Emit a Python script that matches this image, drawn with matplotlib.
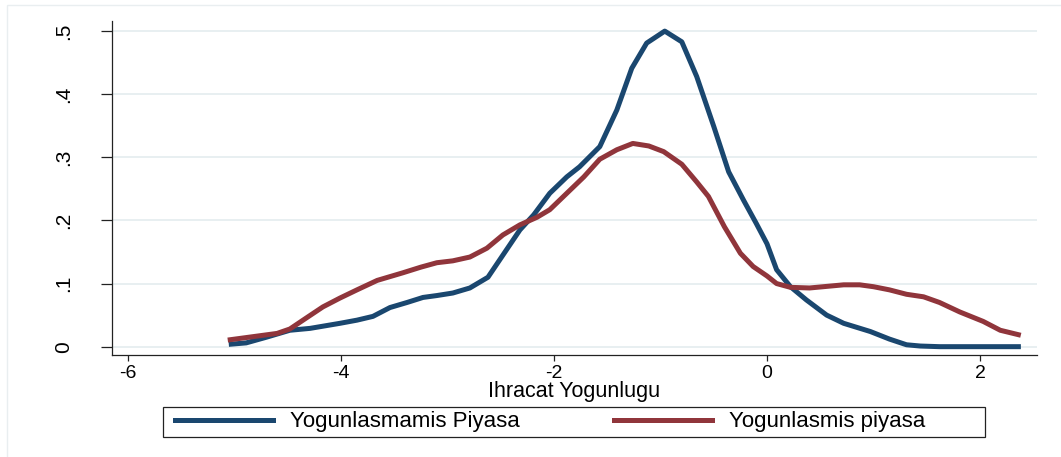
import matplotlib
matplotlib.use("Agg")
import matplotlib.pyplot as plt
from matplotlib.lines import Line2D
from matplotlib.patches import Rectangle

plt.rcParams['font.family'] = ['Liberation Sans', 'DejaVu Sans']

# Density curve: Yogunlasmamis Piyasa (non-concentrated market)
blue_x = [-5.03, -4.89, -4.70, -4.48, -4.29, -4.01, -3.85, -3.70, -3.54, -3.38,
          -3.23, -3.10, -2.95, -2.79, -2.62, -2.48, -2.32, -2.19, -2.04, -1.88,
          -1.76, -1.57, -1.41, -1.27, -1.13, -0.96, -0.80, -0.66, -0.50, -0.36,
          -0.22, -0.10, 0.00, 0.09, 0.22, 0.37, 0.56, 0.72, 0.97, 1.15,
          1.31, 1.44, 1.62, 2.00, 2.36]
blue_y = [0.004, 0.006, 0.015, 0.026, 0.029, 0.037, 0.042, 0.048, 0.062, 0.070,
          0.078, 0.081, 0.085, 0.093, 0.110, 0.145, 0.185, 0.209, 0.243, 0.269,
          0.285, 0.317, 0.375, 0.441, 0.481, 0.500, 0.483, 0.428, 0.349, 0.277,
          0.232, 0.195, 0.163, 0.122, 0.095, 0.074, 0.050, 0.037, 0.024, 0.012,
          0.003, 0.001, 0.000, 0.000, 0.000]

# Density curve: Yogunlasmis piyasa (concentrated market)
red_x = [-5.04, -4.82, -4.60, -4.48, -4.33, -4.17, -4.01, -3.85, -3.66, -3.42,
         -3.25, -3.10, -2.95, -2.79, -2.63, -2.48, -2.32, -2.16, -2.04, -1.88,
         -1.72, -1.57, -1.41, -1.26, -1.11, -0.97, -0.80, -0.66, -0.55, -0.40,
         -0.25, -0.13, 0.00, 0.09, 0.22, 0.40, 0.72, 0.87, 1.00, 1.15,
         1.31, 1.47, 1.62, 1.81, 2.03, 2.19, 2.36]
red_y = [0.011, 0.016, 0.021, 0.028, 0.045, 0.063, 0.077, 0.090, 0.105, 0.117,
         0.126, 0.133, 0.136, 0.142, 0.156, 0.177, 0.193, 0.205, 0.217, 0.243,
         0.269, 0.297, 0.312, 0.322, 0.318, 0.309, 0.289, 0.261, 0.238, 0.190,
         0.148, 0.127, 0.112, 0.100, 0.094, 0.093, 0.098, 0.098, 0.095, 0.090,
         0.083, 0.079, 0.070, 0.055, 0.040, 0.026, 0.019]

series_labels = ["Yogunlasmamis Piyasa", "Yogunlasmis piyasa"]
x_ticks = [-6, -4, -2, 0, 2]
x_tick_labels = ["-6", "-4", "-2", "0", "2"]
y_ticks = [0, 0.1, 0.2, 0.3, 0.4, 0.5]
y_tick_labels = ["0", ".1", ".2", ".3", ".4", ".5"]
x_label = "Ihracat Yogunlugu"

W, H = 1061, 457
fig = plt.figure(figsize=(W / 100, H / 100), dpi=100)
fig.patch.set_facecolor('white')

# faint outer graph-region frame
fig.add_artist(Rectangle((7 / W, -0.05), 1.2, (H - 5) / H + 0.05,
                         transform=fig.transFigure, fill=False,
                         edgecolor='#e9eef0', linewidth=1.0))

ax = fig.add_axes([112 / W, 1 - 355 / H, (1037 - 112) / W, (355 - 21) / H])
ax.set_facecolor('white')

blue_c = '#1a476f'
red_c = '#90353b'
LW = 3.6
ax.plot(blue_x, blue_y, color=blue_c, lw=LW, zorder=3)
ax.plot(red_x, red_y, color=red_c, lw=LW, zorder=3)

ax.set_xlim(-6.15, 2.535)
ax.set_ylim(-0.0132, 0.516)

ax.set_xticks(x_ticks)
ax.set_xticklabels(x_tick_labels)
ax.set_yticks(y_ticks)
ax.set_yticklabels(y_tick_labels, rotation=90, va='center')

for s in ['top', 'right']:
    ax.spines[s].set_visible(False)
for s in ['left', 'bottom']:
    ax.spines[s].set_linewidth(0.9)
    ax.spines[s].set_color('#222222')

ax.tick_params(axis='y', length=8, width=0.9, pad=20, labelsize=15, color='#222222')
ax.tick_params(axis='x', length=4.5, width=0.9, pad=3, labelsize=14, color='#222222')

ax.grid(axis='y', color='#e6eef0', linewidth=1.3, zorder=0)
ax.set_axisbelow(True)

ax.set_xlabel(x_label, fontsize=15.5, labelpad=-1)

# legend box (drawn separately so its extent matches the reference)
fig.add_artist(Rectangle((163 / W, (H - 437) / H), 822 / W, 30 / H,
                         transform=fig.transFigure, fill=False,
                         edgecolor='#222222', linewidth=0.9))

handles = [Line2D([], [], color=blue_c, lw=LW),
           Line2D([], [], color=red_c, lw=LW)]
fs = 16
fs_px = fs * 100 / 72
leg = fig.legend(handles, series_labels, ncol=2, loc='center left',
                 bbox_to_anchor=(175 / W, (H - 422) / H),
                 fontsize=fs, handlelength=98 / fs_px,
                 handletextpad=17 / fs_px, columnspacing=94 / fs_px,
                 borderpad=0, borderaxespad=0, frameon=False)

fig.savefig('out.png', dpi=100, facecolor='white')
